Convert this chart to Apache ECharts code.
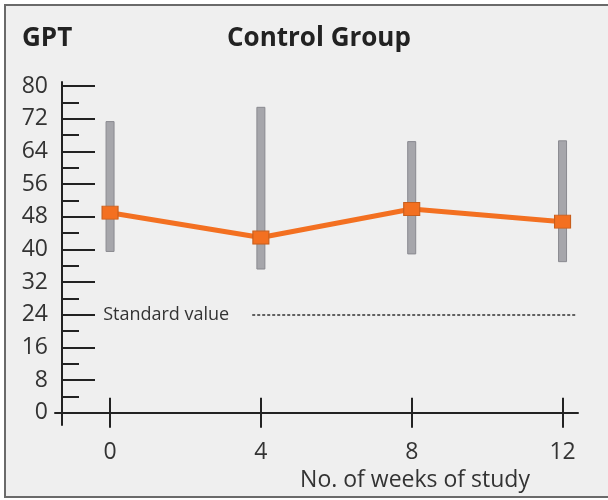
<!DOCTYPE html>
<html lang="en">

<head>
    <meta charset="UTF-8" />
    <title>GPT Control Group</title>
    <script src="https://cdn.jsdelivr.net/npm/echarts@6/dist/echarts.min.js"></script>
    <style>
        * {
            margin: 0;
        }

        #chart {
            width: 608px;
            height: 500px;
        }
    </style>
</head>

<body>
    <div id="chart"></div>
    <script>
        // values
        const weeks = [0, 4, 8, 12];
        const means = [49.0, 42.9, 49.9, 46.8];
        const upper = [71.3, 74.8, 66.4, 66.6];
        const lower = [39.5, 35.2, 38.9, 37.0];
        const standardValue = 24;
        const yMajorTicks = [0, 8, 16, 24, 32, 40, 48, 56, 64, 72, 80];
        const yMinorTicks = [4, 12, 20, 28, 36, 44, 52, 60, 68, 76];

        const font = "'Open Sans', sans-serif";
        const axisColor = "#222";

        const chart = echarts.init(document.getElementById("chart"));

        const option = {
            backgroundColor: "#fff",
            animation: false,
            graphic: [
                {
                    type: "rect",
                    z: -10,
                    shape: { x: 5, y: 5, width: 640, height: 492 },
                    style: { fill: "#efefef", stroke: "#6a6a6a", lineWidth: 2 },
                },
            ],
            title: [
                {
                    text: "GPT",
                    left: 17,
                    top: 21,
                    textStyle: { fontFamily: font, fontSize: 26, fontWeight: "bold", color: "#222" },
                },
                {
                    text: "Control Group",
                    left: 222,
                    top: 21,
                    textStyle: { fontFamily: font, fontSize: 26, fontWeight: "bold", color: "#222" },
                },
            ],
            grid: { left: 55, right: 30, top: 82, bottom: 75 },
            xAxis: [
                {
                    type: "value",
                    position: "bottom",
                    min: -1.46,
                    max: 12.41,
                    splitLine: { show: false },
                    axisLine: { onZero: true, lineStyle: { color: axisColor, width: 2 } },
                    axisTick: { customValues: weeks, length: 15, lineStyle: { color: axisColor, width: 2 } },
                    axisLabel: {
                        customValues: weeks,
                        margin: 16,
                        fontFamily: font,
                        fontSize: 23,
                        color: "#333",
                    },
                    name: "No. of weeks of study",
                    nameLocation: "middle",
                    nameGap: 38,
                    nameTextStyle: { fontFamily: font, fontSize: 23, color: "#333", padding: [0, 0, 0, 197] },
                },
                {
                    type: "value",
                    position: "bottom",
                    min: -1.46,
                    max: 12.41,
                    splitLine: { show: false },
                    axisLine: { show: false, onZero: true },
                    axisTick: { inside: true, customValues: weeks, length: 15, lineStyle: { color: axisColor, width: 2 } },
                    axisLabel: { show: false },
                },
            ],
            yAxis: [
                {
                    type: "value",
                    position: "left",
                    min: -3,
                    max: 81,
                    offset: -7,
                    splitLine: { show: false },
                    axisLine: { show: true, onZero: false, lineStyle: { color: axisColor, width: 2 } },
                    axisTick: { inside: true, customValues: yMajorTicks, length: 33, lineStyle: { color: axisColor, width: 2 } },
                    axisLabel: {
                        customValues: yMajorTicks,
                        margin: 14,
                        fontFamily: font,
                        fontSize: 23,
                        color: "#333",
                    },
                },
                {
                    type: "value",
                    position: "left",
                    min: -3,
                    max: 81,
                    offset: -7,
                    splitLine: { show: false },
                    axisLine: { show: false, onZero: false },
                    axisTick: { inside: true, customValues: yMinorTicks, length: 17, lineStyle: { color: axisColor, width: 2 } },
                    axisLabel: { show: false },
                },
            ],
            series: [
                {
                    type: "custom",
                    name: "range",
                    z: 1,
                    data: weeks.map((w, i) => [w, lower[i], upper[i]]),
                    renderItem: function (params, api) {
                        const top = api.coord([api.value(0), api.value(2)]);
                        const bottom = api.coord([api.value(0), api.value(1)]);
                        return {
                            type: "rect",
                            shape: { x: top[0] - 4, y: top[1], width: 8, height: bottom[1] - top[1] },
                            style: { fill: "#a6a6ab", stroke: "#8a8a90", lineWidth: 1 },
                        };
                    },
                },
                {
                    type: "line",
                    name: "mean",
                    z: 3,
                    data: weeks.map((w, i) => [w, means[i]]),
                    symbol: "rect",
                    symbolSize: [16, 13],
                    itemStyle: { color: "#f37021", borderColor: "#c85e1c", borderWidth: 1 },
                    lineStyle: { color: "#f37021", width: 5 },
                    markLine: {
                        silent: true,
                        symbol: "none",
                        lineStyle: { type: [3, 2], color: "#333", width: 1.5 },
                        label: {
                            position: "start",
                            distance: 23,
                            formatter: "Standard value",
                            fontFamily: font,
                            fontSize: 18,
                            color: "#333",
                        },
                        data: [[{ coord: [3.77, standardValue] }, { coord: [12.34, standardValue] }]],
                    },
                },
            ],
        };

        chart.setOption(option);
    </script>
</body>

</html>
